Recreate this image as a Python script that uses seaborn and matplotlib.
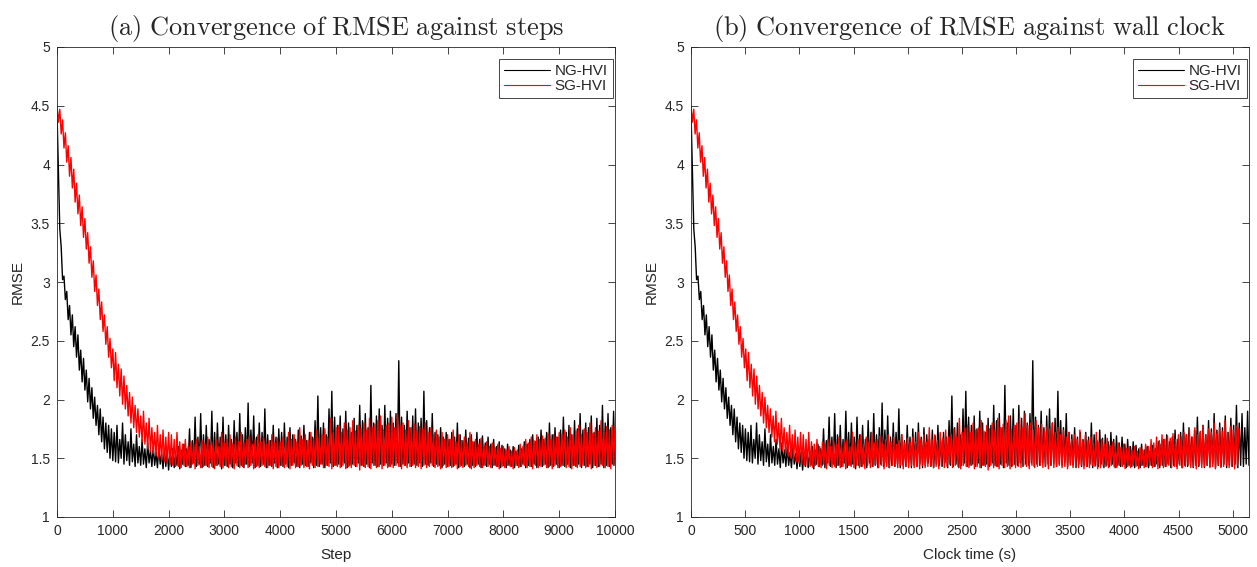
import numpy as np
import matplotlib
matplotlib.use("Agg")
import matplotlib.pyplot as plt
import seaborn as sns

# ---------------- data ----------------
STEP_INTERVAL = 25            # one stored value every 25 steps, 0..10000
NG_TOTAL_CLOCK = 5150         # seconds for 10000 steps (NG-HVI)
SG_TOTAL_CLOCK = 5055         # seconds for 10000 steps (SG-HVI)
TOTAL_STEPS = 10000

ng_rmse = [
    4.45, 3.95, 3.45, 3.30, 3.02, 3.05, 2.85, 2.92, 2.68, 2.80,
    2.55, 2.72, 2.45, 2.62, 2.36, 2.55, 2.25, 2.42, 2.15, 2.35,
    2.08, 2.25, 1.98, 2.18, 1.92, 2.10, 1.84, 2.02, 1.78, 1.95,
    1.70, 1.92, 1.64, 1.85, 1.58, 1.80, 1.55, 1.78, 1.50, 1.75,
    1.48,
    1.72, 1.47, 1.78, 1.46, 1.66, 1.50, 1.80, 1.45, 1.70, 1.48,
    1.64, 1.44, 1.75, 1.47, 1.62, 1.43, 1.70, 1.46, 1.60, 1.44,
    1.66, 1.45, 1.58, 1.42, 1.63, 1.46, 1.57, 1.43, 1.60, 1.44,
    1.55, 1.42, 1.59, 1.45, 1.54, 1.41, 1.58, 1.43, 1.56, 1.40,
    # 2000-3000
    1.55, 1.43, 1.58, 1.42, 1.54, 1.44, 1.60, 1.41, 1.57, 1.45,
    1.62, 1.43, 1.58, 1.44, 1.75, 1.42, 1.65, 1.46, 1.85, 1.43,
    1.68, 1.45, 1.88, 1.42, 1.70, 1.44, 1.78, 1.43, 1.66, 1.46,
    1.90, 1.42, 1.72, 1.44, 1.80, 1.45, 1.68, 1.41, 1.85, 1.44,
    # 3000-4000
    1.70, 1.43, 1.78, 1.45, 1.66, 1.42, 1.82, 1.46, 1.72, 1.43,
    1.88, 1.44, 1.70, 1.42, 1.76, 1.45, 1.97, 1.43, 1.74, 1.46,
    1.86, 1.42, 1.68, 1.44, 1.80, 1.43, 1.72, 1.45, 1.92, 1.42,
    1.70, 1.44, 1.65, 1.43, 1.78, 1.46, 1.68, 1.42, 1.75, 1.44,
    # 4000-5000
    1.72, 1.43, 1.80, 1.45, 1.68, 1.42, 1.76, 1.44, 1.70, 1.46,
    1.66, 1.43, 1.74, 1.42, 1.69, 1.45, 1.78, 1.44, 1.65, 1.43,
    1.72, 1.46, 1.68, 1.42, 1.82, 1.44, 2.03, 1.43, 1.76, 1.45,
    1.80, 1.42, 1.70, 1.44, 1.92, 1.46, 2.07, 1.43, 1.85, 1.44,
    # 5000-6000
    1.78, 1.45, 1.86, 1.43, 1.75, 1.46, 1.90, 1.42, 1.80, 1.44,
    1.72, 1.45, 1.84, 1.43, 1.78, 1.46, 1.95, 1.44, 1.82, 1.43,
    1.88, 1.45, 1.76, 1.42, 2.12, 1.46, 1.80, 1.44, 1.86, 1.43,
    1.92, 1.45, 1.78, 1.44, 1.95, 1.46, 1.84, 1.43, 1.90, 1.45,
    # 6000-7000
    1.80, 1.44, 1.88, 1.46, 2.33, 1.43, 1.85, 1.45, 1.78, 1.44,
    1.90, 1.46, 1.76, 1.43, 1.86, 1.45, 1.92, 1.44, 1.80, 1.46,
    1.84, 1.43, 2.07, 1.45, 1.82, 1.44, 1.76, 1.46, 1.88, 1.43,
    1.72, 1.45, 1.70, 1.44, 1.76, 1.42, 1.68, 1.45, 1.72, 1.43,
    # 7000-8000
    1.66, 1.44, 1.72, 1.43, 1.68, 1.45, 1.80, 1.42, 1.70, 1.44,
    1.65, 1.43, 1.74, 1.45, 1.67, 1.42, 1.70, 1.44, 1.64, 1.43,
    1.72, 1.45, 1.66, 1.42, 1.69, 1.44, 1.63, 1.43, 1.68, 1.45,
    1.62, 1.42, 1.66, 1.44, 1.60, 1.43, 1.64, 1.42, 1.61, 1.44,
    # 8000-9000
    1.58, 1.42, 1.62, 1.44, 1.57, 1.43, 1.60, 1.42, 1.56, 1.44,
    1.61, 1.43, 1.58, 1.45, 1.64, 1.42, 1.62, 1.44, 1.66, 1.43,
    1.70, 1.45, 1.64, 1.42, 1.68, 1.44, 1.74, 1.43, 1.66, 1.45,
    1.72, 1.42, 1.80, 1.44, 1.70, 1.43, 1.76, 1.45, 1.68, 1.42,
    # 9000-10000
    1.74, 1.44, 1.85, 1.43, 1.72, 1.45, 1.78, 1.42, 1.70, 1.44,
    1.82, 1.43, 1.75, 1.45, 1.88, 1.42, 1.74, 1.44, 1.80, 1.43,
    1.76, 1.45, 1.86, 1.42, 1.72, 1.44, 1.84, 1.43, 1.78, 1.45,
    1.95, 1.42, 1.80, 1.44, 1.88, 1.43, 1.76, 1.45, 1.90, 1.44,
]

sg_rmse = [
    4.50, 4.36, 4.47, 4.26, 4.38, 4.14, 4.27, 4.02, 4.16, 3.90,
    4.06, 3.80, 3.96, 3.68, 3.84, 3.58, 3.74, 3.48, 3.64, 3.38,
    3.54, 3.28, 3.42, 3.16, 3.30, 3.04, 3.18, 2.92, 3.06, 2.80,
    2.94, 2.68, 2.83, 2.58, 2.72, 2.47, 2.62, 2.36, 2.52, 2.27,
    2.43,
    2.16, 2.40, 2.10, 2.30, 2.03, 2.26, 1.96, 2.20, 1.92, 2.12,
    1.86, 2.06, 1.80, 2.02, 1.76, 1.95, 1.72, 1.92, 1.68, 1.86,
    1.64, 1.90, 1.62, 1.80, 1.58, 1.84, 1.56, 1.76, 1.54, 1.72,
    1.52, 1.78, 1.50, 1.70, 1.48, 1.74, 1.47, 1.68, 1.46, 1.72,
    # 2000-3000
    1.45, 1.70, 1.44, 1.66, 1.43, 1.72, 1.43, 1.64, 1.42, 1.62,
    1.44, 1.66, 1.43, 1.60, 1.42, 1.64, 1.45, 1.62, 1.41, 1.66,
    1.44, 1.60, 1.42, 1.65, 1.43, 1.62, 1.44, 1.68, 1.42, 1.61,
    1.43, 1.64, 1.41, 1.66, 1.44, 1.60, 1.43, 1.72, 1.42, 1.63,
    # 3000-4000
    1.44, 1.66, 1.42, 1.70, 1.43, 1.62, 1.41, 1.68, 1.44, 1.64,
    1.42, 1.72, 1.43, 1.63, 1.45, 1.66, 1.42, 1.69, 1.44, 1.62,
    1.41, 1.66, 1.43, 1.70, 1.42, 1.64, 1.44, 1.68, 1.43, 1.62,
    1.42, 1.65, 1.44, 1.70, 1.41, 1.63, 1.43, 1.67, 1.42, 1.64,
    # 4000-5000
    1.44, 1.68, 1.42, 1.64, 1.43, 1.72, 1.41, 1.66, 1.44, 1.70,
    1.42, 1.64, 1.43, 1.76, 1.44, 1.66, 1.42, 1.70, 1.43, 1.65,
    1.41, 1.72, 1.44, 1.67, 1.42, 1.74, 1.43, 1.68, 1.45, 1.70,
    1.42, 1.75, 1.44, 1.68, 1.43, 1.84, 1.41, 1.72, 1.44, 1.76,
    # 5000-6000
    1.43, 1.78, 1.42, 1.72, 1.44, 1.80, 1.41, 1.74, 1.43, 1.76,
    1.42, 1.82, 1.44, 1.73, 1.43, 1.78, 1.40, 1.75, 1.44, 1.80,
    1.42, 1.74, 1.43, 1.84, 1.41, 1.76, 1.44, 1.79, 1.42, 1.82,
    1.43, 1.86, 1.41, 1.74, 1.44, 1.78, 1.42, 1.80, 1.43, 1.85,
    # 6000-7000
    1.42, 1.76, 1.44, 1.88, 1.43, 1.78, 1.41, 1.80, 1.44, 1.74,
    1.42, 1.82, 1.43, 1.76, 1.44, 1.79, 1.42, 1.73, 1.43, 1.77,
    1.41, 1.75, 1.44, 1.80, 1.42, 1.72, 1.43, 1.76, 1.44, 1.70,
    1.42, 1.74, 1.43, 1.68, 1.41, 1.72, 1.44, 1.66, 1.42, 1.70,
    # 7000-8000
    1.43, 1.66, 1.42, 1.74, 1.44, 1.64, 1.41, 1.70, 1.43, 1.65,
    1.42, 1.68, 1.44, 1.63, 1.43, 1.72, 1.41, 1.64, 1.42, 1.66,
    1.44, 1.62, 1.43, 1.67, 1.42, 1.61, 1.44, 1.64, 1.43, 1.60,
    1.42, 1.63, 1.44, 1.59, 1.43, 1.62, 1.41, 1.58, 1.43, 1.60,
    # 8000-9000
    1.42, 1.57, 1.44, 1.60, 1.43, 1.56, 1.41, 1.59, 1.44, 1.57,
    1.42, 1.62, 1.43, 1.60, 1.44, 1.66, 1.42, 1.63, 1.43, 1.68,
    1.41, 1.65, 1.44, 1.70, 1.42, 1.66, 1.43, 1.69, 1.44, 1.67,
    1.42, 1.71, 1.43, 1.66, 1.41, 1.70, 1.44, 1.68, 1.42, 1.72,
    # 9000-10000
    1.43, 1.70, 1.44, 1.74, 1.42, 1.68, 1.43, 1.76, 1.41, 1.70,
    1.44, 1.73, 1.42, 1.78, 1.43, 1.70, 1.44, 1.75, 1.42, 1.72,
    1.43, 1.80, 1.41, 1.71, 1.44, 1.76, 1.42, 1.73, 1.43, 1.82,
    1.44, 1.72, 1.42, 1.77, 1.43, 1.74, 1.41, 1.78, 1.44, 1.75,
]

series_names = ["NG-HVI", "SG-HVI"]
series_colors = ["#000000", "#ff0000"]
titles = ["(a) Convergence of RMSE against steps",
          "(b) Convergence of RMSE against wall clock"]
xlabels = ["Step", "Clock time (s)"]
step_ticks = list(range(0, 10001, 1000))
clock_ticks = list(range(0, 5001, 500))
y_ticks = [1, 1.5, 2, 2.5, 3, 3.5, 4, 4.5, 5]
y_ticklabels = ["1", "1.5", "2", "2.5", "3", "3.5", "4", "4.5", "5"]

# ---------------- derived x values ----------------
steps_ng = np.arange(len(ng_rmse)) * STEP_INTERVAL
steps_sg = np.arange(len(sg_rmse)) * STEP_INTERVAL
clock_ng = steps_ng / TOTAL_STEPS * NG_TOTAL_CLOCK
clock_sg = steps_sg / TOTAL_STEPS * SG_TOTAL_CLOCK

# ---------------- style ----------------
sns.set_style("ticks")
plt.rcParams["font.family"] = ["Liberation Sans", "DejaVu Sans"]
plt.rcParams["mathtext.fontset"] = "cm"
AX_COLOR = "#262626"

fig = plt.figure(figsize=(12.57, 5.67), dpi=100)
ax_left = fig.add_axes([57 / 1257, 50 / 567, 558 / 1257, 470 / 567])
ax_right = fig.add_axes([691 / 1257, 50 / 567, 558 / 1257, 470 / 567])

panels = [
    (ax_left, [steps_ng, steps_sg], step_ticks, (0, TOTAL_STEPS)),
    (ax_right, [clock_ng, clock_sg], clock_ticks, (0, NG_TOTAL_CLOCK)),
]

for k, (ax, xs, xt, xlim) in enumerate(panels):
    for x, y, name, col in zip(xs, [ng_rmse, sg_rmse], series_names, series_colors):
        sns.lineplot(x=x, y=y, ax=ax, color=col, linewidth=1.0, label=name,
                     estimator=None, sort=False)
    ax.set_xlim(*xlim)
    ax.set_ylim(1, 5)
    ax.set_xticks(xt)
    ax.set_xticklabels([str(t) for t in xt])
    ax.set_yticks(y_ticks)
    ax.set_yticklabels(y_ticklabels)
    ax.tick_params(direction="in", length=5, width=0.6, colors=AX_COLOR,
                   labelsize=10, top=True, right=True, pad=5)
    for s in ax.spines.values():
        s.set_visible(True)
        s.set_color(AX_COLOR)
        s.set_linewidth(0.6)
    ax.set_xlabel(xlabels[k], fontsize=11, color=AX_COLOR, labelpad=7)
    ax.set_ylabel("RMSE", fontsize=11, color=AX_COLOR, labelpad=4)
    title_tex = r"$\mathrm{" + titles[k].replace(" ", r"\ ") + "}$"
    ax.set_title(title_tex, fontsize=19, pad=9)
    leg = ax.legend(loc="upper right", bbox_to_anchor=(0.9964, 0.9745),
                    borderaxespad=0, fontsize=11, frameon=True, fancybox=False,
                    framealpha=1, edgecolor=AX_COLOR, handlelength=3.0,
                    handletextpad=0.3, borderpad=0.35, labelspacing=0.05)
    leg.get_frame().set_linewidth(0.6)
    for line in leg.get_lines():
        line.set_linewidth(0.8)
    for t in leg.get_texts():
        t.set_color(AX_COLOR)

fig.savefig("out.png", dpi=100)
